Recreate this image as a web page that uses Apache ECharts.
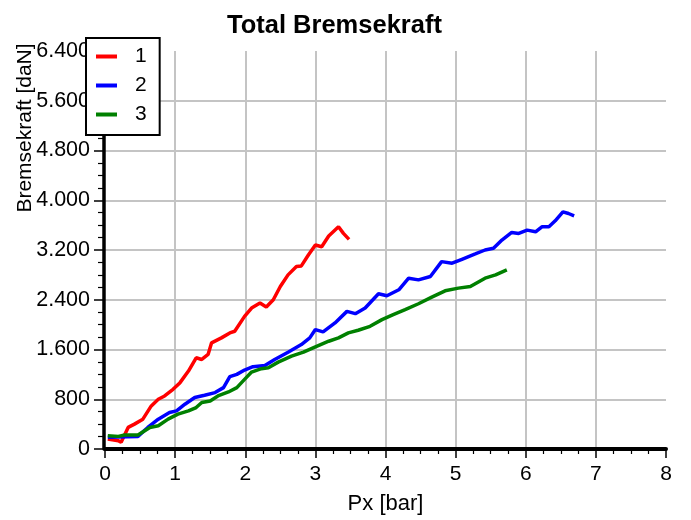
<!DOCTYPE html>
<html>
<head>
<meta charset="utf-8">
<script src="https://cdn.jsdelivr.net/npm/echarts@6/dist/echarts.min.js"></script>
<style>html,body{margin:0;padding:0;background:#fff;}#c{width:691px;height:520px;}</style>
</head>
<body>
<div id="c"></div>
<script>
const seriesNames = ['1', '2', '3'];
const seriesColors = ['#ff0000', '#0000ff', '#008000'];
const xTicks = [0, 1, 2, 3, 4, 5, 6, 7, 8];
const yTicks = [0, 800, 1600, 2400, 3200, 4000, 4800, 5600, 6400];

const series1 = [
  [0.04,160],[0.19,133],[0.23,107],[0.33,347],[0.42,400],[0.54,480],[0.66,693],[0.76,800],
  [0.85,853],[0.97,960],[1.07,1067],[1.19,1253],[1.30,1467],[1.38,1440],[1.47,1520],[1.52,1707],
  [1.66,1787],[1.78,1867],[1.85,1893],[1.99,2133],[2.09,2267],[2.21,2347],[2.30,2283],[2.40,2400],
  [2.50,2613],[2.61,2800],[2.73,2933],[2.80,2944],[2.90,3120],[3.00,3280],[3.09,3253],[3.19,3424],
  [3.33,3573],[3.40,3467],[3.48,3371]
];
const series2 = [
  [0.04,187],[0.47,203],[0.61,347],[0.76,480],[0.92,587],[1.02,613],[1.14,720],[1.28,827],
  [1.42,864],[1.57,907],[1.69,987],[1.78,1163],[1.88,1200],[1.99,1269],[2.11,1323],[2.28,1344],
  [2.42,1440],[2.61,1557],[2.80,1680],[2.92,1787],[3.00,1920],[3.11,1883],[3.28,2027],[3.45,2213],
  [3.57,2176],[3.71,2267],[3.90,2496],[4.02,2464],[4.19,2560],[4.33,2747],[4.47,2720],[4.64,2773],
  [4.80,3013],[4.95,2987],[5.09,3051],[5.28,3136],[5.42,3200],[5.54,3227],[5.66,3360],[5.80,3483],
  [5.90,3467],[6.02,3520],[6.14,3493],[6.23,3573],[6.33,3573],[6.42,3669],[6.53,3813],[6.61,3787],
  [6.69,3749]
];
const series3 = [
  [0.04,213],[0.19,203],[0.28,224],[0.47,224],[0.64,347],[0.76,373],[0.90,480],[1.04,560],
  [1.19,613],[1.30,667],[1.38,747],[1.50,773],[1.61,853],[1.76,917],[1.88,987],[1.99,1120],
  [2.09,1237],[2.23,1291],[2.33,1307],[2.47,1397],[2.66,1493],[2.83,1557],[3.00,1643],[3.19,1733],
  [3.33,1787],[3.47,1867],[3.61,1909],[3.78,1973],[3.95,2080],[4.11,2160],[4.28,2240],[4.47,2336],
  [4.66,2443],[4.85,2544],[5.04,2587],[5.21,2613],[5.42,2747],[5.57,2800],[5.73,2880]
];
const allSeries = [series1, series2, series3];

const fmt = v => String(v).replace(/\B(?=(\d{3})+(?!\d))/g, '.');
const FONT = '"Liberation Sans", Arial, sans-serif';

const chart = echarts.init(document.getElementById('c'), null, {renderer: 'canvas'});
chart.setOption({
  animation: false,
  backgroundColor: '#fff',
  title: {
    text: 'Total Bremsekraft',
    left: 222, top: 8,
    textStyle: {fontFamily: FONT, fontSize: 25.5, fontWeight: 'bold', color: '#000'}
  },
  legend: {
    orient: 'vertical',
    left: 86, top: 38,
    padding: [8, 13, 10, 10],
    itemGap: 8,
    itemWidth: 21, itemHeight: 4,
    icon: 'rect',
    backgroundColor: '#fff',
    borderColor: '#000', borderWidth: 2,
    textStyle: {fontFamily: FONT, fontSize: 21, color: '#000', lineHeight: 20, padding: [0, 0, 0, 13]},
    data: seriesNames
  },
  graphic: [{
    type: 'text',
    x: 25, y: 128,
    rotation: Math.PI / 2,
    style: {text: 'Bremsekraft [daN]', font: '21px ' + FONT, fill: '#000', align: 'center', verticalAlign: 'middle'}
  }],
  grid: {left: 105, right: 25, top: 51, bottom: 70, containLabel: false},
  xAxis: {
    type: 'value',
    min: xTicks[0], max: xTicks[xTicks.length - 1], interval: 1,
    name: 'Px [bar]', nameLocation: 'middle', nameGap: 44,
    nameTextStyle: {fontFamily: FONT, fontSize: 22, color: '#000'},
    axisLine: {show: true, onZero: false, lineStyle: {color: '#000', width: 4}},
    axisTick: {show: true, length: 9, lineStyle: {color: '#000', width: 1.5}},
    minorTick: {show: true, splitNumber: 4, length: 5, lineStyle: {color: '#000', width: 1.2}},
    axisLabel: {fontFamily: FONT, fontSize: 21, color: '#000', margin: 15},
    splitLine: {show: true, showMinLine: false, showMaxLine: false, lineStyle: {color: '#c4c4c4', width: 2}}
  },
  yAxis: {
    type: 'value',
    min: yTicks[0], max: yTicks[yTicks.length - 1], interval: 800,
    offset: 1,
    axisLine: {show: true, onZero: false, lineStyle: {color: '#000', width: 3.5}},
    axisTick: {show: true, length: 10, lineStyle: {color: '#000', width: 1.5}},
    minorTick: {show: true, splitNumber: 4, length: 6, lineStyle: {color: '#000', width: 1.2}},
    axisLabel: {fontFamily: FONT, fontSize: 21.5, color: '#000', margin: 14, formatter: fmt},
    splitLine: {show: true, showMinLine: false, showMaxLine: false, lineStyle: {color: '#c4c4c4', width: 2}}
  },
  series: allSeries.map((d, i) => ({
    name: seriesNames[i],
    type: 'line',
    data: d,
    showSymbol: false,
    symbol: 'none',
    color: seriesColors[i],
    lineStyle: {width: 3.5, color: seriesColors[i]},
    z: 3 + i
  }))
});
</script>
</body>
</html>
